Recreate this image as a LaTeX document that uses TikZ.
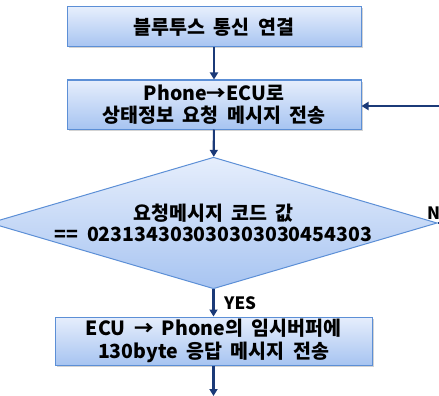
\documentclass[tikz,border=0pt]{standalone}
\usepackage{fontspec}
\setmainfont{Noto Sans CJK KR}[WordSpace=1.9]
\usetikzlibrary{arrows.meta,shapes.geometric,shadows}
\definecolor{boxtop}{HTML}{E6EEFC}
\definecolor{boxbot}{HTML}{A7C4F1}
\definecolor{boxline}{HTML}{5C8FD6}
\definecolor{flowline}{HTML}{1B3A78}
\tikzset{
  procbox/.style={rectangle, draw=boxline, line width=1pt, top color=boxtop, bottom color=boxbot,
    drop shadow={shadow xshift=1.5pt, shadow yshift=-1.5pt, opacity=0.35, fill=gray},
    inner sep=0pt, align=center, font=\bfseries\fontsize{19.5}{22.5}\selectfont},
  decision/.style={diamond, shape aspect=3.4, draw=boxline, line width=1pt, top color=boxtop, bottom color=boxbot,
    inner sep=0pt, align=center, font=\bfseries\fontsize{19.5}{21.5}\selectfont},
  flow/.style={draw=flowline, line width=2.2pt, -{Triangle[width=8pt,length=7pt]}},
  flowplain/.style={draw=flowline, line width=2.2pt},
  tag/.style={font=\bfseries\fontsize{17}{18}\selectfont, inner sep=0pt}
}
\begin{document}
\begin{tikzpicture}[x=1pt,y=-1pt]
  \useasboundingbox (0,0) rectangle (439,396);
  \node[procbox, minimum width=294pt, minimum height=40pt] (conn) at (214,27) {블루투스 통신 연결};
  \node[procbox, minimum width=294pt, minimum height=49pt] (req) at (214,104.5) {Phone→ECU로\\상태정보 요청 메시지 전송};
  \node[decision, minimum width=411pt, minimum height=120pt] (chk) at (213.5,223) {요청메시지 코드 값\\== 023134303030303030454303};
  \node[procbox, minimum width=317pt, minimum height=48pt] (resp) at (213.5,341) {ECU → Phone의 임시버퍼에\\130byte 응답 메시지 전송};
  \coordinate (retin) at (439,106);
  \coordinate (noout) at (439,223);
  \coordinate (down) at (213.5,396);
  \draw[flow] (conn) -- (req);
  \draw[flow] (req) -- (chk);
  \draw[flow] (chk.south) -- (resp.north);
  \node[tag, anchor=west] (yes) at (224,303) {YES};
  \draw[flow] (resp) -- (down);
  \draw[flowplain] (chk.east) -- (noout);
  \node[tag, anchor=south west] (no) at (427,220) {NO};
  \draw[flow] (retin) -- (retin -| req.east);
\end{tikzpicture}
\end{document}
